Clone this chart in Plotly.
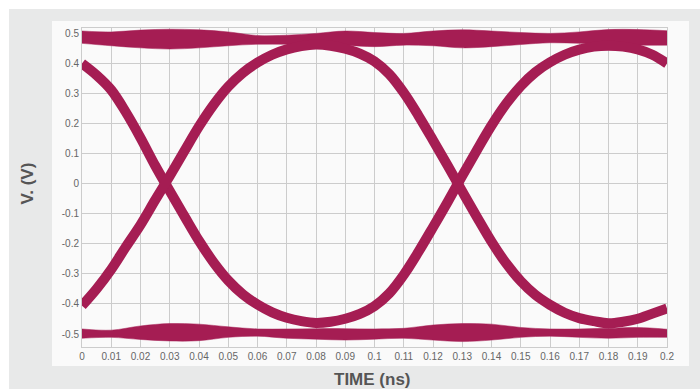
import plotly.graph_objects as go

# ---- eye diagram data (time in ns, voltage in V), sampled every 5 ps ----
t_samples = [0.000, 0.005, 0.010, 0.015, 0.020, 0.025, 0.030, 0.035, 0.040, 0.045,
             0.050, 0.055, 0.060, 0.065, 0.070, 0.075, 0.080, 0.085, 0.090, 0.095,
             0.100, 0.105, 0.110, 0.115, 0.120, 0.125, 0.130, 0.135, 0.140, 0.145,
             0.150, 0.155, 0.160, 0.165, 0.170, 0.175, 0.180, 0.185, 0.190, 0.195,
             0.200]

# trace family 1: falls through the first crossing, rises through the second
path1_v = [0.399, 0.360, 0.311, 0.237, 0.152, 0.060, -0.025, -0.108, -0.190, -0.262,
           -0.322, -0.368, -0.402, -0.428, -0.446, -0.457, -0.463, -0.459, -0.449, -0.433,
           -0.407, -0.365, -0.303, -0.227, -0.145, -0.061, 0.026, 0.111, 0.193, 0.265,
           0.324, 0.370, 0.403, 0.428, 0.445, 0.455, 0.458, 0.455, 0.446, 0.428,
           0.399]

# trace family 2: rises through the first crossing, falls through the second
path2_v = [-0.406, -0.350, -0.285, -0.210, -0.137, -0.055, 0.025, 0.108, 0.190, 0.262,
           0.322, 0.368, 0.402, 0.428, 0.446, 0.457, 0.462, 0.458, 0.448, 0.432,
           0.406, 0.364, 0.302, 0.226, 0.144, 0.060, -0.026, -0.111, -0.193, -0.265,
           -0.324, -0.370, -0.403, -0.429, -0.447, -0.457, -0.464, -0.459, -0.449, -0.432,
           -0.415]

# logic-high and logic-low rails (upper and lower envelope)
rail_t = [0.0, 0.01, 0.02, 0.03, 0.04, 0.05, 0.06, 0.07, 0.08, 0.09, 0.10,
          0.11, 0.12, 0.13, 0.14, 0.15, 0.16, 0.17, 0.18, 0.19, 0.20]
high_top = [0.507, 0.504, 0.510, 0.513, 0.511, 0.504, 0.492, 0.493, 0.499, 0.507, 0.502,
            0.499, 0.507, 0.511, 0.507, 0.502, 0.499, 0.504, 0.512, 0.512, 0.508]
high_bot = [0.466, 0.458, 0.451, 0.447, 0.451, 0.458, 0.463, 0.463, 0.462, 0.460, 0.455,
            0.460, 0.458, 0.451, 0.455, 0.462, 0.468, 0.466, 0.463, 0.460, 0.460]
low_top = [-0.483, -0.487, -0.473, -0.465, -0.467, -0.476, -0.483, -0.483, -0.482, -0.482, -0.483,
           -0.481, -0.470, -0.465, -0.467, -0.478, -0.483, -0.483, -0.481, -0.478, -0.484]
low_bot = [-0.514, -0.511, -0.518, -0.523, -0.522, -0.511, -0.507, -0.514, -0.517, -0.520, -0.517,
           -0.514, -0.520, -0.525, -0.520, -0.511, -0.507, -0.511, -0.514, -0.511, -0.511]

x_ticks = [0.0, 0.01, 0.02, 0.03, 0.04, 0.05, 0.06, 0.07, 0.08, 0.09, 0.10,
           0.11, 0.12, 0.13, 0.14, 0.15, 0.16, 0.17, 0.18, 0.19, 0.20]
x_tick_text = ["0", "0.01", "0.02", "0.03", "0.04", "0.05", "0.06", "0.07", "0.08", "0.09", "0.1",
               "0.11", "0.12", "0.13", "0.14", "0.15", "0.16", "0.17", "0.18", "0.19", "0.2"]
y_ticks = [0.5, 0.4, 0.3, 0.2, 0.1, 0.0, -0.1, -0.2, -0.3, -0.4, -0.5]
y_tick_text = ["0.5", "0.4", "0.3", "0.2", "0.1", "0", "-0.1", "-0.2", "-0.3", "-0.4", "-0.5"]

EYE = "#a51d53"
FONT = "Liberation Sans, Arial, sans-serif"

fig = go.Figure()

# rails as filled envelopes
for top, bot in ((high_top, high_bot), (low_top, low_bot)):
    fig.add_trace(go.Scatter(x=rail_t, y=bot, mode="lines",
                             line=dict(color=EYE, width=0.5, shape="spline"),
                             hoverinfo="skip", showlegend=False))
    fig.add_trace(go.Scatter(x=rail_t, y=top, mode="lines", fill="tonexty",
                             fillcolor=EYE,
                             line=dict(color=EYE, width=0.5, shape="spline"),
                             hoverinfo="skip", showlegend=False))

# transition bands
for v in (path1_v, path2_v):
    fig.add_trace(go.Scatter(x=t_samples, y=v, mode="lines",
                             line=dict(color=EYE, width=10, shape="spline", smoothing=1.0),
                             hoverinfo="skip", showlegend=False))

# panel backgrounds (outer grey frame and inner light card)
fig.add_shape(type="rect", xref="paper", yref="paper", layer="below",
              x0=-0.1248, x1=1.0564, y0=-0.1317, y1=1.0596,
              fillcolor="#e8e9e9", line_width=0)
fig.add_shape(type="rect", xref="paper", yref="paper", layer="below",
              x0=-0.0513, x1=1.0376, y0=-0.0596, y1=1.0219,
              fillcolor="#fafafa", line_width=0)

fig.add_annotation(text="<b>V. (V)</b>", xref="paper", yref="paper",
                   x=-0.0923, y=0.5125, textangle=-90, showarrow=False,
                   xanchor="center", yanchor="middle",
                   font=dict(family=FONT, size=17, color="#555555"))
fig.add_annotation(text="<b>TIME (ns)</b>", xref="paper", yref="paper",
                   x=0.496, y=-0.1034, showarrow=False,
                   xanchor="center", yanchor="middle",
                   font=dict(family=FONT, size=17, color="#555555"))

axis_common = dict(showgrid=True, gridcolor="#cccccc", gridwidth=1,
                   showline=True, linecolor="#cccccc", linewidth=1, mirror=True,
                   zeroline=False, ticks="",
                   tickfont=dict(family=FONT, size=10, color="#666666"))

fig.update_xaxes(range=[0, 0.2], tickvals=x_ticks, ticktext=x_tick_text, **axis_common)
fig.update_yaxes(range=[-0.543, 0.517], tickvals=y_ticks, ticktext=y_tick_text, **axis_common)

fig.update_layout(width=700, height=389,
                  margin=dict(l=82, r=33, t=28, b=42),
                  paper_bgcolor="white", plot_bgcolor="#fafafa",
                  showlegend=False)

fig.write_html("out.html")
